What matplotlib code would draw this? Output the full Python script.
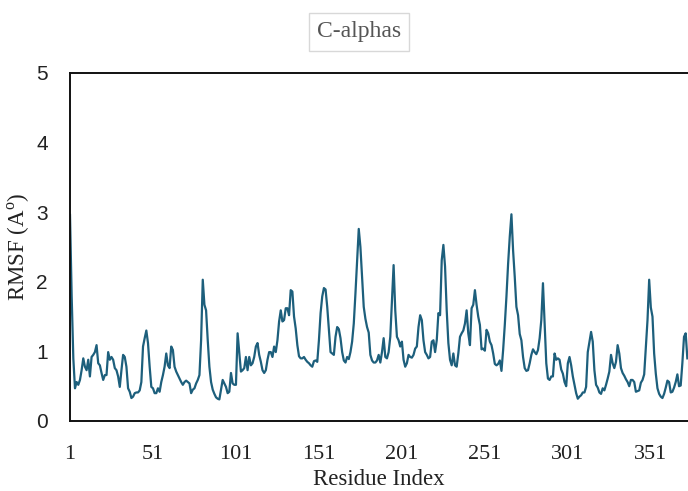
import matplotlib
matplotlib.use("Agg")
import matplotlib.pyplot as plt

title = "C-alphas"
x_label = "Residue Index"
y_label = "RMSF (A$^{\\mathrm{o}}$)"
x_ticks = [1, 51, 101, 151, 201, 251, 301, 351]
y_ticks = [0, 1, 2, 3, 4, 5]

rmsf = [
    2.96, 1.80, 0.90, 0.47, 0.56, 0.52, 0.59, 0.73, 0.90, 0.78,
    0.73, 0.88, 0.64, 0.92, 0.95, 0.99, 1.09, 0.83, 0.80, 0.69,
    0.59, 0.66, 0.66, 0.99, 0.88, 0.92, 0.88, 0.76, 0.73, 0.64,
    0.49, 0.73, 0.95, 0.92, 0.78, 0.47, 0.42, 0.33, 0.35, 0.40,
    0.41, 0.41, 0.44, 0.56, 1.07, 1.19, 1.30, 1.12, 0.78, 0.49,
    0.47, 0.40, 0.40, 0.47, 0.42, 0.56, 0.66, 0.78, 0.97, 0.80,
    0.76, 1.07, 1.02, 0.78, 0.71, 0.66, 0.61, 0.56, 0.52, 0.56,
    0.58, 0.56, 0.54, 0.40, 0.45, 0.47, 0.54, 0.59, 0.66, 1.16,
    2.03, 1.67, 1.59, 1.16, 0.78, 0.56, 0.45, 0.39, 0.34, 0.32,
    0.31, 0.45, 0.59, 0.54, 0.49, 0.40, 0.42, 0.69, 0.54, 0.52,
    0.52, 1.26, 0.99, 0.71, 0.73, 0.76, 0.92, 0.73, 0.92, 0.80,
    0.83, 0.92, 1.07, 1.12, 0.95, 0.85, 0.73, 0.69, 0.73, 0.88,
    0.99, 0.99, 0.92, 1.07, 0.99, 1.16, 1.43, 1.59, 1.43, 1.45,
    1.62, 1.62, 1.52, 1.88, 1.86, 1.50, 1.33, 1.09, 0.93, 0.90,
    0.90, 0.92, 0.88, 0.85, 0.83, 0.80, 0.78, 0.86, 0.87, 0.85,
    1.16, 1.55, 1.79, 1.91, 1.89, 1.64, 1.31, 0.99, 0.97, 0.95,
    1.21, 1.35, 1.32, 1.19, 0.99, 0.87, 0.84, 0.92, 0.89, 0.99,
    1.14, 1.40, 1.83, 2.31, 2.76, 2.50, 2.07, 1.64, 1.47, 1.35,
    1.27, 0.95, 0.87, 0.84, 0.84, 0.87, 0.95, 0.84, 0.99, 1.19,
    0.92, 0.90, 0.99, 1.21, 1.74, 2.24, 1.59, 1.21, 1.16, 1.07,
    1.14, 0.88, 0.78, 0.83, 0.95, 0.92, 0.91, 0.95, 1.04, 1.07,
    1.35, 1.52, 1.45, 1.16, 0.99, 0.95, 0.90, 0.92, 1.14, 1.16,
    0.99, 1.16, 1.55, 1.52, 2.31, 2.53, 2.22, 1.59, 1.12, 0.88,
    0.80, 0.97, 0.80, 0.78, 0.97, 1.21, 1.26, 1.30, 1.40, 1.59,
    1.26, 1.09, 1.62, 1.67, 1.88, 1.67, 1.50, 1.38, 1.03, 1.04,
    1.01, 1.31, 1.26, 1.14, 1.09, 0.97, 0.82, 0.80, 0.82, 0.87,
    0.72, 1.02, 1.38, 1.79, 2.26, 2.65, 2.97, 2.45, 2.07, 1.64,
    1.52, 1.25, 1.16, 0.92, 0.76, 0.72, 0.73, 0.83, 0.95, 1.03,
    0.99, 0.96, 1.02, 1.19, 1.45, 1.98, 1.40, 0.83, 0.61, 0.59,
    0.64, 0.64, 0.97, 0.88, 0.90, 0.88, 0.74, 0.68, 0.56, 0.50,
    0.83, 0.92, 0.80, 0.64, 0.52, 0.40, 0.32, 0.35, 0.37, 0.41,
    0.41, 0.49, 0.99, 1.14, 1.28, 1.14, 0.73, 0.52, 0.48, 0.41,
    0.39, 0.47, 0.44, 0.52, 0.61, 0.71, 0.95, 0.83, 0.76, 0.85,
    1.09, 0.97, 0.76, 0.69, 0.65, 0.60, 0.56, 0.50, 0.59, 0.59,
    0.56, 0.42, 0.43, 0.44, 0.55, 0.59, 0.67, 1.07, 1.45, 2.03,
    1.63, 1.50, 0.97, 0.68, 0.47, 0.39, 0.35, 0.33, 0.39, 0.48,
    0.58, 0.56, 0.41, 0.42, 0.48, 0.56, 0.67, 0.50, 0.51, 0.83,
    1.21, 1.26, 0.90,
]
residues = list(range(1, len(rmsf) + 1))

plt.rcParams["mathtext.fontset"] = "custom"
plt.rcParams["mathtext.rm"] = "Liberation Serif"

fig = plt.figure(figsize=(6.88, 4.91), dpi=100)
ax = fig.add_axes([70 / 688, 70 / 491, 1 - 70 / 688, 348 / 491])

ax.plot(residues, rmsf, color="#1d5f7c", linewidth=1.6)

ax.set_xlim(1, 373.4)
ax.set_ylim(0, 5)
ax.set_xticks(x_ticks)
ax.set_yticks(y_ticks)
ax.set_xticklabels([str(t) for t in x_ticks], fontfamily="Liberation Serif",
                   fontsize=16, color="#222222")
ax.set_yticklabels([str(t) for t in y_ticks], fontfamily="Liberation Sans",
                   fontsize=15, color="#222222")
ax.tick_params(axis="x", length=0, pad=17)
ax.tick_params(axis="y", length=0, pad=16)

for side in ("left", "top", "bottom"):
    ax.spines[side].set_linewidth(1.4)
    ax.spines[side].set_color("#111111")
ax.spines["right"].set_visible(False)

ax.set_xlabel(x_label, fontfamily="Liberation Serif", fontsize=16.5,
              color="#222222", labelpad=4)
ax.set_ylabel(y_label, fontfamily="Liberation Serif", fontsize=16.5,
              color="#222222")
ax.yaxis.set_label_coords(-0.061, 0.5)

fig.text(359 / 688, 1 - 32 / 491, title, ha="center", va="center",
         fontfamily="Liberation Serif", fontsize=17, color="#555555",
         bbox=dict(boxstyle="square,pad=0.35", facecolor="white",
                   edgecolor="#d8d8d8", linewidth=1.0))

fig.savefig("out.png", dpi=100)
